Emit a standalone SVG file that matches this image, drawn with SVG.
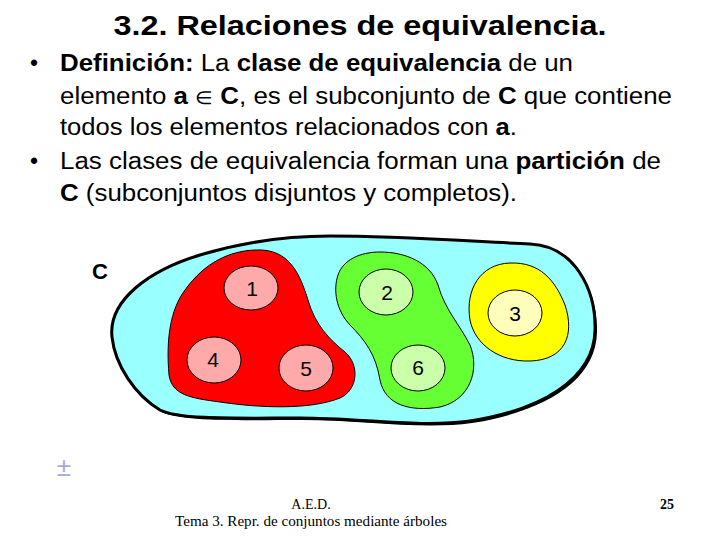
<svg xmlns="http://www.w3.org/2000/svg" width="720" height="540" viewBox="0 0 720 540">
<style>
.t{font-family:"Liberation Sans",Arial,sans-serif;fill:#000}
.b{font-weight:bold}
.body{font-size:23px}
.num{font-family:"Liberation Sans",Arial,sans-serif;font-size:21px;text-anchor:middle;fill:#000}
.foot{font-family:"Liberation Serif","Times New Roman",serif;font-size:14px;fill:#000}
.reg{stroke:#000;stroke-width:1}
.el{stroke:#000;stroke-width:1}
</style>
<rect width="720" height="540" fill="#fff"/>
<text class="t b" x="360" y="35" font-size="27" text-anchor="middle" textLength="493" lengthAdjust="spacingAndGlyphs">3.2. Relaciones de equivalencia.</text>
<g class="t body">
<text x="30" y="71">•</text>
<text x="60" y="71" textLength="513" lengthAdjust="spacingAndGlyphs"><tspan class="b">Definición:</tspan> La <tspan class="b">clase de equivalencia</tspan> de un</text>
<text x="60" y="104" textLength="612" lengthAdjust="spacingAndGlyphs">elemento <tspan class="b">a</tspan> <tspan font-size="18">∈</tspan> <tspan class="b">C</tspan>, es el subconjunto de <tspan class="b">C</tspan> que contiene</text>
<text x="60" y="135" textLength="457" lengthAdjust="spacingAndGlyphs">todos los elementos relacionados con <tspan class="b">a</tspan>.</text>
<text x="30" y="169">•</text>
<text x="60" y="169" textLength="601" lengthAdjust="spacingAndGlyphs">Las clases de equivalencia forman una <tspan class="b">partición</tspan> de</text>
<text x="60" y="201" textLength="457" lengthAdjust="spacingAndGlyphs"><tspan class="b">C</tspan> (subconjuntos disjuntos y completos).</text>
</g>
<g id="setC">
<path d="M112,337 C108,300 150,270 200,255 C250,240 290,236 330,236 C400,236 480,242 530,244 C575,246 596,290 595,330 C594,380 540,410 470,421 C420,428 360,418 300,418 C240,418 180,420 160,410 C135,395 115,365 112,337 Z" fill="#000" transform="translate(2,2)"/>
<path d="M112,337 C108,300 150,270 200,255 C250,240 290,236 330,236 C400,236 480,242 530,244 C575,246 596,290 595,330 C594,380 540,410 470,421 C420,428 360,418 300,418 C240,418 180,420 160,410 C135,395 115,365 112,337 Z" fill="#99FFFF" stroke="#000" stroke-width="3"/>
<text class="t b" x="92" y="279" font-size="22">C</text>
</g>
<g id="classRed">
<path class="reg" d="M255,250 C290,248 300,275 308,300 C315,325 330,340 345,352 C360,365 358,390 340,398 C310,410 260,408 220,402 C190,398 172,395 169,375 C166,340 170,310 185,290 C205,262 230,251 255,250 Z" fill="#FF0000"/>
</g>
<g id="classGreen">
<path class="reg" d="M380,252 C405,252 430,262 438,285 C445,310 460,325 470,345 C480,370 470,400 440,407 C410,412 385,405 380,380 C376,355 365,340 350,325 C336,310 333,290 338,275 C343,260 360,252 380,252 Z" fill="#66FF33"/>
</g>
<g id="classYellow">
<path class="reg" d="M510,263 C540,262 555,280 565,305 C575,335 565,360 530,361 C500,362 475,345 470,320 C465,290 480,264 510,263 Z" fill="#FFFF00"/>
</g>
<g id="e1"><ellipse class="el" cx="251" cy="288" rx="27" ry="22" fill="#FFAAAA"/><text class="num" x="252" y="296">1</text></g>
<g id="e4"><ellipse class="el" cx="214" cy="360" rx="27" ry="23" fill="#FFAAAA"/><text class="num" x="213" y="367">4</text></g>
<g id="e5"><ellipse class="el" cx="306" cy="368" rx="27" ry="23" fill="#FFAAAA"/><text class="num" x="306" y="376">5</text></g>
<g id="e2"><ellipse class="el" cx="386" cy="292" rx="27" ry="23" fill="#CCFFAA"/><text class="num" x="387" y="300">2</text></g>
<g id="e6"><ellipse class="el" cx="418" cy="368" rx="27" ry="23" fill="#CCFFAA"/><text class="num" x="418" y="375">6</text></g>
<g id="e3"><ellipse class="el" cx="515" cy="313" rx="27" ry="23" fill="#FFFFBB"/><text class="num" x="515" y="321">3</text></g>
<text x="64" y="476" font-family="Liberation Sans,Arial,sans-serif" font-size="26" fill="#A8A8D8" text-anchor="middle">±</text>
<text class="foot" x="311" y="509" text-anchor="middle">A.E.D.</text>
<text class="foot" x="311" y="526" text-anchor="middle" textLength="272" lengthAdjust="spacingAndGlyphs">Tema 3. Repr. de conjuntos mediante árboles</text>
<text class="foot" x="667" y="509" text-anchor="middle" font-weight="bold">25</text>
</svg>
